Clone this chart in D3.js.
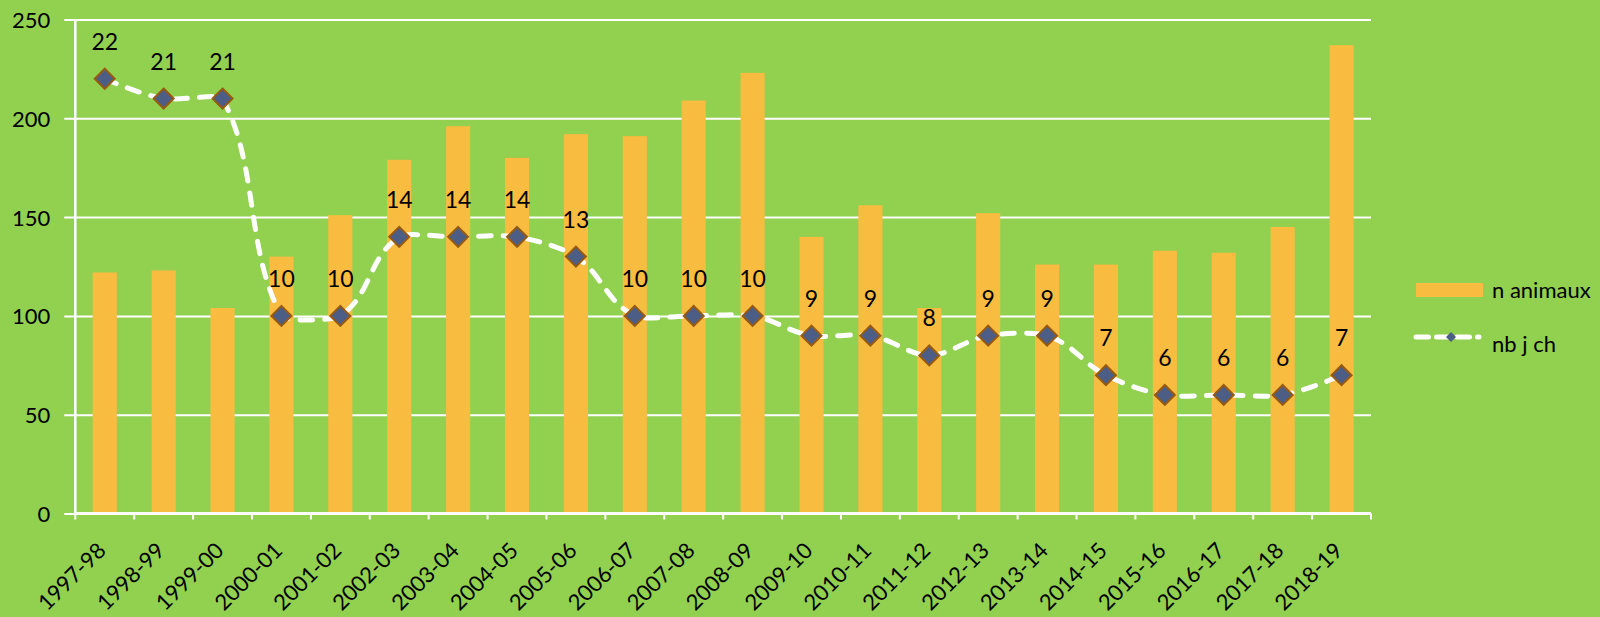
<!DOCTYPE html>
<html>
<head>
<meta charset="utf-8">
<script src="https://cdn.jsdelivr.net/npm/d3@7"></script>
<style>
	body { margin: 0; background: #92D050; }
	text { font-family: Lato, "Open Sans", sans-serif; fill: #000; }
</style>
</head>
<body>
<div id="plot"></div>
<script>

// ---------------------------//
//       DATA                 //
// ---------------------------//

var seasons = ["1997-98", "1998-99", "1999-00", "2000-01", "2001-02", "2002-03", "2003-04", "2004-05",
	"2005-06", "2006-07", "2007-08", "2008-09", "2009-10", "2010-11", "2011-12", "2012-13",
	"2013-14", "2014-15", "2015-16", "2016-17", "2017-18", "2018-19"];

// n animaux (bars)
var animaux = [122, 123, 104, 130, 151, 179, 196, 180, 192, 191, 209, 223, 140, 156, 104, 152, 126, 126, 133, 132, 145, 237];

// nb j ch (line, read on a hidden secondary scale 0-25)
var nbJch = [22, 21, 21, 10, 10, 14, 14, 14, 13, 10, 10, 10, 9, 9, 8, 9, 9, 7, 6, 6, 6, 7];

var yTicks = [0, 50, 100, 150, 200, 250];

var seriesNames = ["n animaux", "nb j ch"];

// ---------------------------//
//       SETUP                //
// ---------------------------//

var W = 1600, H = 617;
var plotLeft = 75.3, plotRight = 1371, plotTop = 19.5, plotBottom = 513.5;

var barColor = "#F7BC40";
var markFill = "#4D5E86";
var markStroke = "#975A0E";

var svg = d3.select("#plot")
	.append("svg")
	.attr("width", W)
	.attr("height", H)
	.style("display", "block");

svg.append("rect")
	.attr("width", W)
	.attr("height", H)
	.attr("fill", "#92D050");

// ---------------------------//
//       AXIS  AND SCALE      //
// ---------------------------//

var x = d3.scaleBand()
	.domain(seasons)
	.range([plotLeft, plotRight])
	.paddingInner(0.59)
	.paddingOuter(0.295);

var y = d3.scaleLinear()
	.domain([0, 250])
	.range([plotBottom, plotTop]);

var y2 = d3.scaleLinear()
	.domain([0, 25])
	.range([plotBottom, plotTop]);

// gridlines + y ticks
svg.append("g")
	.attr("transform", "translate(" + plotLeft + ",0)")
	.call(d3.axisLeft(y).tickValues(yTicks).tickSize(-(plotRight - plotLeft)).tickSizeOuter(0).tickPadding(0))
	.call(function(g) {
		g.select(".domain").remove();
		g.selectAll(".tick line")
			.attr("stroke", "#fff")
			.attr("stroke-width", 2)
			.attr("x1", -11);
		g.selectAll(".tick text")
			.attr("x", -25)
			.attr("dy", "0.36em")
			.style("font-size", "22px")
			.style("font-family", "Lato, 'Open Sans', sans-serif")
			.attr("fill", "#000");
	});

// y axis line
svg.append("line")
	.attr("x1", plotLeft).attr("x2", plotLeft)
	.attr("y1", plotTop).attr("y2", plotBottom)
	.attr("stroke", "#fff")
	.attr("stroke-width", 2.5);

// ---------------------------//
//       BARS                 //
// ---------------------------//

svg.append("g")
	.selectAll("rect")
	.data(animaux)
	.enter()
	.append("rect")
	.attr("x", function(d, i) { return x(seasons[i]); })
	.attr("y", function(d) { return y(d); })
	.attr("width", x.bandwidth())
	.attr("height", function(d) { return y(0) - y(d); })
	.attr("fill", barColor);

// x axis with ticks at category boundaries
var step = x.step();
var xAxis = svg.append("g");
xAxis.append("line")
	.attr("x1", plotLeft).attr("x2", plotRight)
	.attr("y1", plotBottom).attr("y2", plotBottom)
	.attr("stroke", "#fff")
	.attr("stroke-width", 3);

xAxis.selectAll(".bt")
	.data(d3.range(seasons.length + 1))
	.enter()
	.append("line")
	.attr("x1", function(i) { return plotLeft + i * step; })
	.attr("x2", function(i) { return plotLeft + i * step; })
	.attr("y1", plotBottom)
	.attr("y2", plotBottom + 6)
	.attr("stroke", "#fff")
	.attr("stroke-width", 2);

xAxis.selectAll(".lab")
	.data(seasons)
	.enter()
	.append("text")
	.attr("transform", function(d) {
		return "translate(" + (x(d) + x.bandwidth() / 2 - 3) + "," + (plotBottom + 33) + ") rotate(-45)";
	})
	.attr("text-anchor", "end")
	.attr("dy", "0.35em")
	.style("font-size", "22px")
	.text(function(d) { return d; });

// ---------------------------//
//       LINE                 //
// ---------------------------//

var cx = function(i) { return x(seasons[i]) + x.bandwidth() / 2; };

// smoothed line, control points weighted by segment length (like a spreadsheet "smooth line")
function smoothPath(vals) {
	var p = d3.path();
	var n = vals.length;
	var pts = vals.map(function(v, i) { return [i, v]; });
	var dist = function(a, b) { return Math.hypot(b[0] - a[0], b[1] - a[1]); };
	var ctrl = pts.map(function(pt, i) {
		if (i == 0 || i == n - 1) return [pt, pt];
		var a = pts[i - 1], b = pts[i + 1];
		var dl = dist(a, pt), dr = dist(pt, b), s = dl + dr;
		var dx = b[0] - a[0], dy = b[1] - a[1];
		return [
			[pt[0] - dx * dl / s / 3, pt[1] - dy * dl / s / 3],
			[pt[0] + dx * dr / s / 3, pt[1] + dy * dr / s / 3]
		];
	});
	var X = function(q) { return cx(0) + q * step; };
	p.moveTo(X(pts[0][0]), y2(pts[0][1]));
	for (var i = 1; i < n; i++) {
		var c1 = ctrl[i - 1][1], c2 = ctrl[i][0];
		p.bezierCurveTo(X(c1[0]), y2(c1[1]), X(c2[0]), y2(c2[1]), X(pts[i][0]), y2(pts[i][1]));
	}
	return p.toString();
}

svg.append("path")
	.attr("d", smoothPath(nbJch))
	.attr("fill", "none")
	.attr("stroke", "#fff")
	.attr("stroke-width", 5)
	.attr("stroke-linecap", "round")
	.attr("stroke-dasharray", "12.5,12");

var diamond = function(r) {
	return "M0," + (-r) + "L" + r + ",0L0," + r + "L" + (-r) + ",0Z";
};

svg.append("g")
	.selectAll("path")
	.data(nbJch)
	.enter()
	.append("path")
	.attr("transform", function(d, i) { return "translate(" + cx(i) + "," + y2(d) + ")"; })
	.attr("d", diamond(10))
	.attr("fill", markFill)
	.attr("stroke", markStroke)
	.attr("stroke-width", 2);

// data labels
svg.append("g")
	.selectAll("text")
	.data(nbJch)
	.enter()
	.append("text")
	.attr("x", function(d, i) { return cx(i); })
	.attr("y", function(d) { return y2(d) - 29; })
	.attr("text-anchor", "middle")
	.style("font-size", "23px")
	.text(function(d) { return d; });

// ---------------------------//
//       LEGEND               //
// ---------------------------//

var lg = svg.append("g");

lg.append("rect")
	.attr("x", 1416).attr("y", 283)
	.attr("width", 67).attr("height", 14)
	.attr("fill", barColor);

lg.append("line")
	.attr("x1", 1416).attr("x2", 1479)
	.attr("y1", 337).attr("y2", 337)
	.attr("stroke", "#fff")
	.attr("stroke-width", 5)
	.attr("stroke-linecap", "round")
	.attr("stroke-dasharray", "12.5,8");

lg.append("path")
	.attr("transform", "translate(1451,337)")
	.attr("d", diamond(5))
	.attr("fill", markFill);

lg.selectAll(".lt")
	.data(seriesNames)
	.enter()
	.append("text")
	.attr("x", 1492)
	.attr("y", function(d, i) { return 290 + i * 54; })
	.attr("dy", "0.35em")
	.style("font-size", "22px")
	.text(function(d) { return d; });

</script>
</body>
</html>
